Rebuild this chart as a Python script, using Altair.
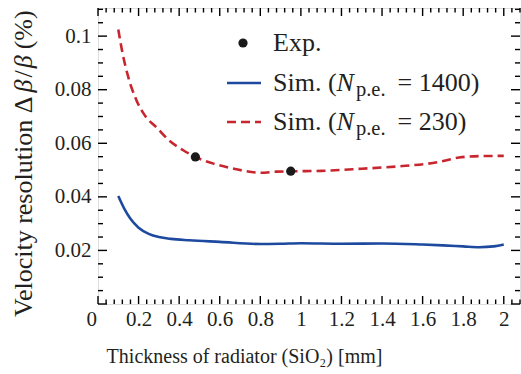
import altair as alt
import pandas as pd

# Velocity resolution vs. radiator thickness
# Simulation, N_p.e. = 1400
thick_1400 = [0.10, 0.13, 0.16, 0.20, 0.25, 0.30, 0.36, 0.45, 0.60, 0.80, 0.90, 1.00,
              1.20, 1.40, 1.60, 1.70, 1.80, 1.88, 1.95, 2.00]
res_1400 = [0.0403, 0.0355, 0.0318, 0.0285, 0.0262, 0.0250, 0.0243, 0.0238, 0.0232, 0.0224,
            0.0225, 0.0227, 0.0225, 0.0226, 0.0222, 0.0219, 0.0215, 0.0212, 0.0215, 0.0222]
# Simulation, N_p.e. = 230
thick_230 = [0.10, 0.12, 0.15, 0.19, 0.23, 0.29, 0.35, 0.42, 0.48, 0.57, 0.67, 0.80, 0.88,
             1.00, 1.10, 1.30, 1.50, 1.68, 1.78, 1.88, 2.00]
res_230 = [0.1025, 0.0940, 0.0845, 0.0760, 0.0705, 0.0658, 0.0611, 0.0574, 0.0549, 0.0524,
           0.0505, 0.0490, 0.0494, 0.0496, 0.0497, 0.0505, 0.0515, 0.0530, 0.0547, 0.0552,
           0.0553]
# Measurements
thick_exp = [0.48, 0.95]
res_exp = [0.0549, 0.0496]

# Tick positions
x_major = [0, 0.2, 0.4, 0.6, 0.8, 1.0, 1.2, 1.4, 1.6, 1.8, 2.0]
x_minor = [round(0.04 * i, 2) for i in range(1, 53) if i % 5 != 0]
y_major = [0, 0.02, 0.04, 0.06, 0.08, 0.1]
y_minor = [round(0.005 * i, 3) for i in range(1, 23) if i % 4 != 0]
y_labels = [0.02, 0.04, 0.06, 0.08, 0.1]

W, H = 422, 296
FONT = "Liberation Serif"
INK = "#231f20"
BLUE = "#1d4a9e"
RED = "#c8262e"

xs = alt.Scale(domain=[0, 2.08], nice=False, zero=False)
ys = alt.Scale(domain=[0, 0.1105], nice=False, zero=False)

x_axis = alt.Axis(
    values=x_major, labelExpr="format(datum.value, '~g')", ticks=False, domain=False,
    grid=False, labelFont=FONT, labelFontSize=21, labelColor=INK, labelPadding=4,
    labelOffset={"condition": {"test": "datum.value == 0", "value": -12}, "value": 0},
    title="Thickness of radiator (SiO₂) [mm]", titleFont=FONT, titleFontSize=20,
    titleFontWeight="normal", titleColor=INK, titleX=146, titleY=58,
    titleAlign="center", titleBaseline="alphabetic",
)
y_axis = alt.Axis(
    values=y_labels, labelExpr="format(datum.value, '~g')", ticks=False, domain=False,
    grid=False, labelFont=FONT, labelFontSize=21, labelColor=INK, labelPadding=7,
    title=None,
)

X = alt.X("x:Q", scale=xs, axis=x_axis)
Y = alt.Y("y:Q", scale=ys, axis=y_axis)

df_1400 = pd.DataFrame({"x": thick_1400, "y": res_1400})
df_230 = pd.DataFrame({"x": thick_230, "y": res_230})
df_exp = pd.DataFrame({"x": thick_exp, "y": res_exp})

line_1400 = alt.Chart(df_1400).mark_line(
    color=BLUE, strokeWidth=2.6, interpolate="monotone").encode(x=X, y=Y)
line_230 = alt.Chart(df_230).mark_line(
    color=RED, strokeWidth=2.6, strokeDash=[9, 5], interpolate="monotone").encode(x=X, y=Y)
points = alt.Chart(df_exp).mark_circle(color="#1a1a1a", opacity=1, size=85).encode(x=X, y=Y)


# Inward ticks on all four sides
def xticks(values, length):
    d = pd.DataFrame({"x": values})
    bottom = alt.Chart(d).mark_rule(color="black", strokeWidth=1.4).encode(
        x=X, y=alt.value(H), y2=alt.value(H - length))
    top = alt.Chart(d).mark_rule(color="black", strokeWidth=1.4).encode(
        x=X, y=alt.value(0), y2=alt.value(length))
    return [bottom, top]


def yticks(values, length):
    d = pd.DataFrame({"y": values})
    left = alt.Chart(d).mark_rule(color="black", strokeWidth=1.4).encode(
        y=Y, x=alt.value(0), x2=alt.value(length))
    right = alt.Chart(d).mark_rule(color="black", strokeWidth=1.4).encode(
        y=Y, x=alt.value(W), x2=alt.value(W - length))
    return [left, right]


ticks = xticks(x_major, 8) + xticks(x_minor, 4.5) + yticks(y_major, 9) + yticks(y_minor, 5)

# Approximate advance widths (em) for laying out mixed-style text runs
EM = {'V': .722, 'e': .444, 'l': .278, 'o': .5, 'c': .444, 'i': .278, 't': .278, 'y': .5,
      ' ': .25, 'r': .333, 's': .389, 'u': .5, 'n': .5, 'Δ': .612, '/': .278, '(': .333,
      '%': .833, ')': .333, 'S': .556, 'm': .778, '.': .25, '=': .564, '1': .5, '4': .5,
      '0': .5, '2': .5, '3': .5, 'p': .5, 'E': .611, 'x': .5, 'β': .5, 'N': .667}


def width(s, size):
    return sum(EM.get(ch, .5) for ch in s) * size


def runs_layer(rows, size, style="normal", angle=0, dy=0):
    d = pd.DataFrame(rows, columns=["px", "py", "txt"])
    return alt.Chart(d).mark_text(
        font=FONT, fontSize=size, fontStyle=style, color=INK, align="left",
        baseline="alphabetic", angle=angle, dy=dy,
    ).encode(x=alt.X("px:Q", scale=None), y=alt.Y("py:Q", scale=None), text="txt:N")


# Y-axis title: "Velocity resolution Δβ/β (%)" with italic β, rotated
TY = 26
ty_parts = [("Velocity resolution Δ", "normal", 0), ("β", "italic", 2), ("/", "normal", 2),
            ("β", "italic", 2), ("(%)", "normal", 6)]
ty_norm, ty_ital = [], []
pos = 309
for txt, st, gap in ty_parts:
    pos -= gap
    (ty_ital if st == "italic" else ty_norm).append((-66, pos, txt))
    pos -= width(txt, TY)
ytitle = [runs_layer(ty_norm, TY, angle=270), runs_layer(ty_ital, TY, "italic", angle=270)]

# Legend
LF = 26
SUB = 20.5
LX = 175
rows_y = [43, 83, 122]
leg_norm = [(LX, rows_y[0], "Exp.")]
leg_ital, leg_sub = [], []
for ry, n in zip(rows_y[1:], ["1400", "230"]):
    px = LX
    leg_norm.append((px, ry, "Sim. ("))
    px += width("Sim. (", LF)
    leg_ital.append((px, ry, "N"))
    px += width("N", LF) + 2
    leg_sub.append((px, ry, "p.e."))
    px += width("p.e.", SUB) + 12
    leg_norm.append((px, ry, "= " + n + ")"))
legend_text = [runs_layer(leg_norm, LF), runs_layer(leg_ital, LF, "italic"),
               runs_layer(leg_sub, SUB, dy=5)]

leg_sym = pd.DataFrame({"px": [145], "py": [35]})
leg_dot = alt.Chart(leg_sym).mark_circle(color="#1a1a1a", opacity=1, size=85).encode(
    x=alt.X("px:Q", scale=None), y=alt.Y("py:Q", scale=None))
leg_blue = alt.Chart(pd.DataFrame({"px": [129], "px2": [163], "py": [75]})).mark_rule(
    color=BLUE, strokeWidth=2.6).encode(
    x=alt.X("px:Q", scale=None), x2="px2:Q", y=alt.Y("py:Q", scale=None))
leg_red = alt.Chart(pd.DataFrame({"px": [129], "px2": [163], "py": [114]})).mark_rule(
    color=RED, strokeWidth=2.6, strokeDash=[9, 5]).encode(
    x=alt.X("px:Q", scale=None), x2="px2:Q", y=alt.Y("py:Q", scale=None))

chart = alt.layer(
    line_1400, line_230, points, *ticks, *ytitle, *legend_text, leg_dot, leg_blue, leg_red
).properties(
    width=W, height=H,
    autosize=alt.AutoSizeParams(type="none"),
    padding={"left": 98, "top": 8, "right": 1, "bottom": 70},
).configure_view(
    stroke="black", strokeWidth=2.8
).configure_axis(
    labelFont=FONT, titleFont=FONT
).configure(background="white")

chart.save("out.html", embed_options={"renderer": "svg", "actions": False})
